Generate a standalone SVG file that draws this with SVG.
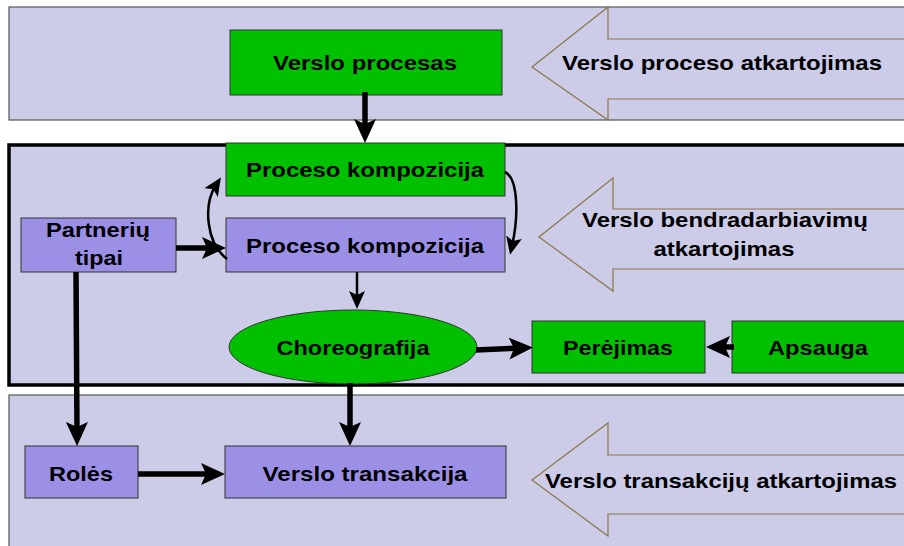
<svg xmlns="http://www.w3.org/2000/svg" width="904" height="546" viewBox="0 0 904 546">
<style>
.band{fill:#cccce8;stroke:#555;stroke-width:1.2}
.mid{fill:#cccce8;stroke:#000;stroke-width:3.5}
.big{fill:#cccce8;stroke:#8b7546;stroke-width:1.2}
.g{fill:#00c000;stroke:#333;stroke-width:1}
.p{fill:#9b90e6;stroke:#333;stroke-width:1}
.t{font-family:"Liberation Sans",Arial,sans-serif;font-weight:bold;font-size:21px;fill:#000;text-anchor:middle}
.c{fill:none;stroke:#000}
.thick{stroke-width:5.5}
.thin{stroke-width:2.5}
</style>
<defs>
<marker id="ab" viewBox="0 0 24 22" refX="12" refY="11" markerWidth="24" markerHeight="22" markerUnits="userSpaceOnUse" orient="auto">
<path d="M0,0 L24,11 L0,22 L5,11 z" fill="#000"/>
</marker>
<marker id="as" viewBox="0 0 18 16" refX="9" refY="8" markerWidth="18" markerHeight="16" markerUnits="userSpaceOnUse" orient="auto">
<path d="M0,0 L18,8 L0,16 L4,8 z" fill="#000"/>
</marker>
</defs>
<rect width="904" height="546" fill="#fff"/>
<g id="band-top">
<rect class="band" x="9" y="7" width="905" height="113"/>
<polygon class="big" points="532,67 608,7 608,39 910,39 910,99 608,99 608,120"/>
<text class="t" x="722" y="70" textLength="320" lengthAdjust="spacingAndGlyphs">Verslo proceso atkartojimas</text>
</g>
<g id="band-mid">
<rect class="mid" x="9" y="145" width="905" height="240"/>
<polygon class="big" points="539,237 613,178 613,209 910,209 910,269 613,269 613,291"/>
<text class="t" x="725" y="227" textLength="286" lengthAdjust="spacingAndGlyphs">Verslo bendradarbiavimų</text>
<text class="t" x="724" y="256" textLength="141" lengthAdjust="spacingAndGlyphs">atkartojimas</text>
</g>
<g id="band-bottom">
<rect class="band" x="9" y="395" width="905" height="160"/>
<polygon class="big" points="532,480 608,423 608,455 910,455 910,514 608,514 608,536"/>
<text class="t" x="721" y="488" textLength="352" lengthAdjust="spacingAndGlyphs">Verslo transakcijų atkartojimas</text>
</g>
<g id="verslo-procesas">
<rect class="g" x="230" y="30" width="272" height="65"/>
<text class="t" x="365" y="70" textLength="184" lengthAdjust="spacingAndGlyphs">Verslo procesas</text>
</g>
<g id="proceso-kompozicija-1">
<rect class="g" x="226" y="143" width="279" height="53"/>
<text class="t" x="365" y="177" textLength="238" lengthAdjust="spacingAndGlyphs">Proceso kompozicija</text>
</g>
<g id="proceso-kompozicija-2">
<rect class="p" x="226" y="218" width="279" height="54"/>
<text class="t" x="365" y="253" textLength="238" lengthAdjust="spacingAndGlyphs">Proceso kompozicija</text>
</g>
<g id="partneriu-tipai">
<rect class="p" x="21" y="218" width="155" height="54"/>
<text class="t" x="98" y="237" textLength="104" lengthAdjust="spacingAndGlyphs">Partnerių</text>
<text class="t" x="99" y="265" textLength="48" lengthAdjust="spacingAndGlyphs">tipai</text>
</g>
<g id="choreografija">
<ellipse cx="353" cy="347" rx="124" ry="37" fill="#00c000" stroke="#333" stroke-width="1"/>
<text class="t" x="353" y="355" textLength="153" lengthAdjust="spacingAndGlyphs">Choreografija</text>
</g>
<g id="perejimas">
<rect class="g" x="532" y="321" width="173" height="52"/>
<text class="t" x="618" y="355" textLength="110" lengthAdjust="spacingAndGlyphs">Perėjimas</text>
</g>
<g id="apsauga">
<rect class="g" x="732" y="321" width="180" height="52"/>
<text class="t" x="818" y="355" textLength="100" lengthAdjust="spacingAndGlyphs">Apsauga</text>
</g>
<g id="roles">
<rect class="p" x="25" y="446" width="113" height="52"/>
<text class="t" x="81" y="481" textLength="64" lengthAdjust="spacingAndGlyphs">Rolės</text>
</g>
<g id="verslo-transakcija">
<rect class="p" x="225" y="446" width="281" height="52"/>
<text class="t" x="365" y="481" textLength="205" lengthAdjust="spacingAndGlyphs">Verslo transakcija</text>
</g>
<g id="connectors">
<line class="c thick" x1="365" y1="92" x2="365" y2="131" marker-end="url(#ab)"/>
<line class="c thick" x1="176" y1="248" x2="214" y2="248" marker-end="url(#ab)"/>
<path class="c thin" d="M227,259 C206,243 203,205 216,185" marker-end="url(#as)"/>
<path class="c thin" d="M505,172 C518,178 519,215 512,246" marker-end="url(#as)"/>
<line class="c thin" x1="357" y1="272" x2="357" y2="300" marker-end="url(#as)"/>
<line class="c thick" x1="476" y1="350" x2="521" y2="348" marker-end="url(#ab)"/>
<line class="c thick" x1="734" y1="347" x2="718" y2="347" marker-end="url(#ab)"/>
<line class="c thick" x1="76" y1="272" x2="77" y2="434" marker-end="url(#ab)"/>
<line class="c thick" x1="350" y1="383" x2="350" y2="434" marker-end="url(#ab)"/>
<line class="c thick" x1="138" y1="474" x2="213" y2="474" marker-end="url(#ab)"/>
</g>
</svg>
